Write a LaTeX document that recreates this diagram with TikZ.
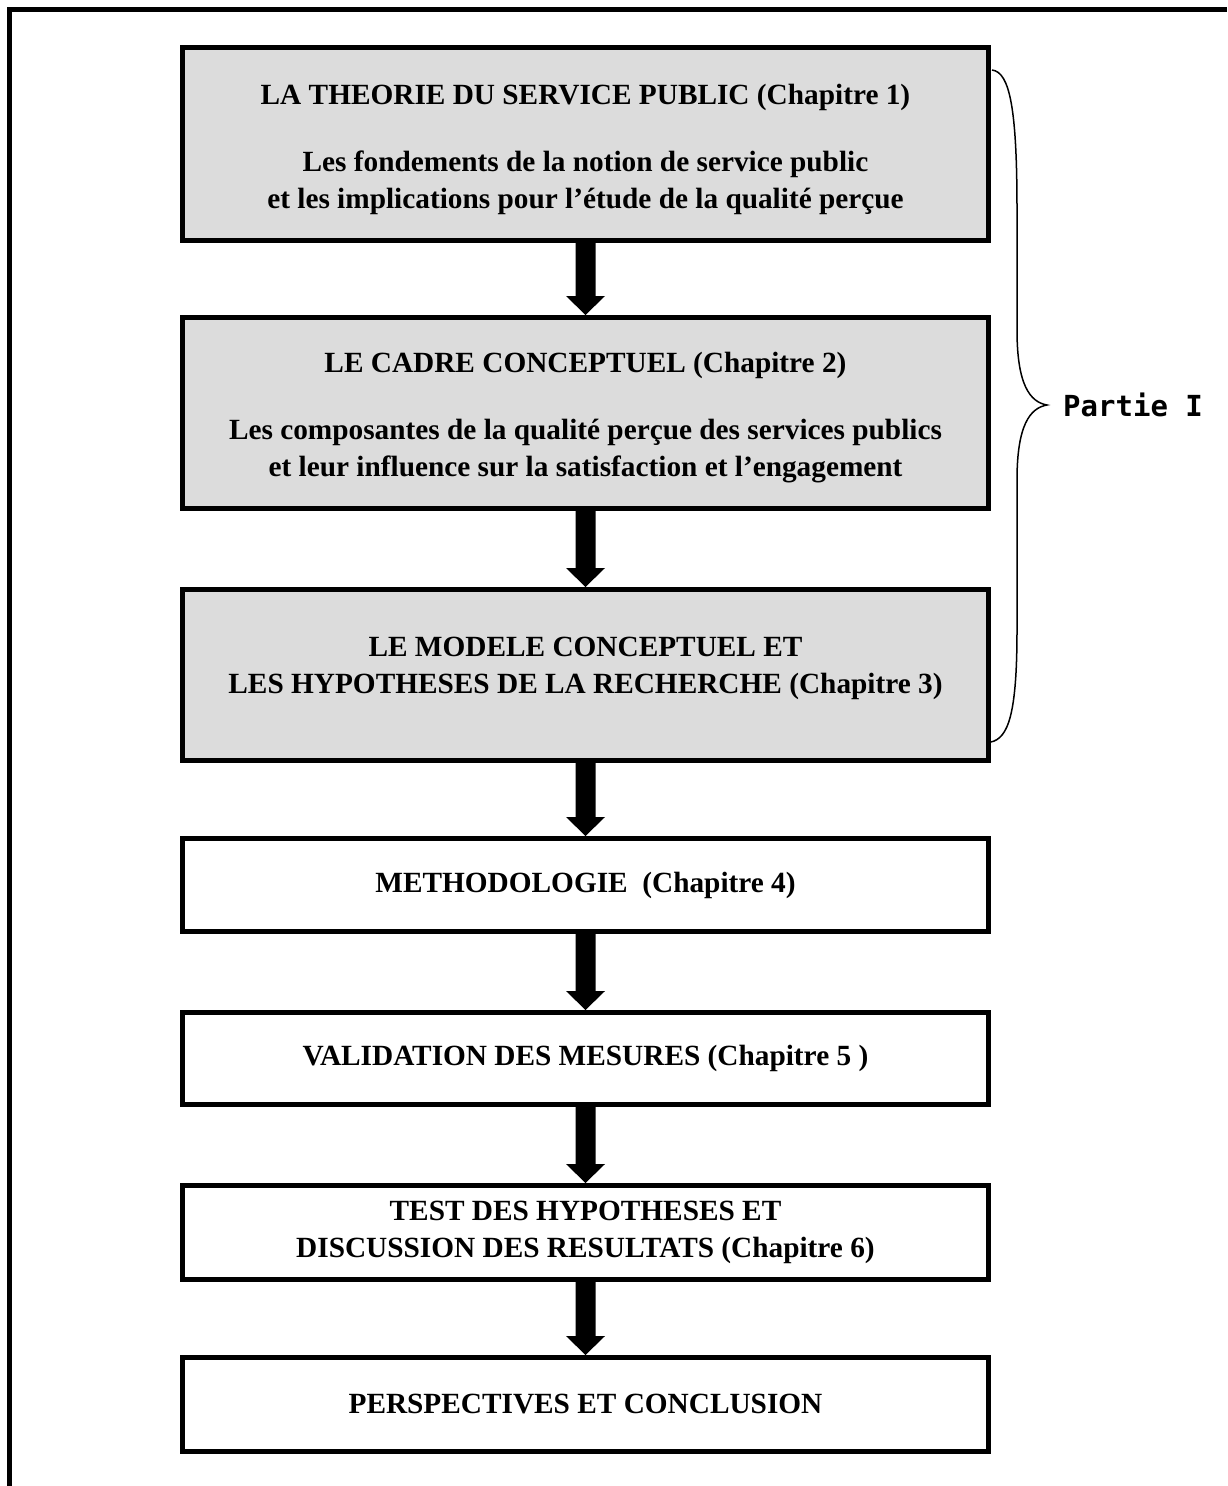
\documentclass[tikz,border=0pt]{standalone}
\usepackage{fontspec}
\setmainfont{Liberation Serif}
\newfontfamily\partiefont{DejaVu Sans Mono}
\usetikzlibrary{calc}
\definecolor{chapgray}{RGB}{220,220,220}
\tikzset{
    chapitre/.style={
        draw, line width=5pt, minimum width=806pt, minimum height=#1,
        align=center, inner sep=0pt,
        font=\fontsize{29.3}{37}\selectfont\bfseries
    },
    chapitre/.default=93pt,
    partie/.style={chapitre=#1, fill=chapgray},
    partie/.default=171pt
}
\newcommand{\fleche}[2] {
	\fill ($(#1.south)+(-10,0)$) -- ($(#2.north)+(-10,-19)$) -- ($(#2.north)+(-19.5,-19)$) -- (#2.north)
		-- ($(#2.north)+(19.5,-19)$) -- ($(#2.north)+(10,-19)$) -- ($(#1.south)+(10,0)$) -- cycle;
}

\begin{document}
\begin{tikzpicture}[x=1pt,y=-1pt]
		\useasboundingbox (0,0) rectangle (1227,1486);
		% Cadre
		\draw[line width=5pt] (9.5,1486) -- (9.5,9.5) -- (1227,9.5);
		
		% Partie I
		\node[partie=193pt] (theorie) at (585.5,144) {\rule{0pt}{32pt}LA THEORIE DU SERVICE PUBLIC (Chapitre 1)\\[30pt]
			Les fondements de la notion de service public\\
			et les implications pour l’étude de la qualité perçue};
		\node[partie=191pt] (cadre) at (585.5,413) {\rule{0pt}{30pt}LE CADRE CONCEPTUEL (Chapitre 2)\\[30pt]
			Les composantes de la qualité perçue des services publics\\
			et leur influence sur la satisfaction et l’engagement};
		\node[partie] (modele) at (585.5,675) {LE MODELE CONCEPTUEL ET\\
			LES HYPOTHESES DE LA RECHERCHE (Chapitre 3)\rule[-19pt]{0pt}{19pt}};
		
		% Suite
		\node[chapitre] (methodo) at (585.5,885) {METHODOLOGIE\ \ (Chapitre 4)};
		\node[chapitre=92pt] (validation) at (585.5,1058.5) {VALIDATION DES MESURES (Chapitre 5 )};
		\node[chapitre=94pt] (test) at (585.5,1232.5) {TEST DES HYPOTHESES ET\\
			DISCUSSION DES RESULTATS (Chapitre 6)};
		\node[chapitre=94pt] (perspectives) at (585.5,1404.5) {PERSPECTIVES ET CONCLUSION};
		
		\fleche{theorie}{cadre}
		\fleche{cadre}{modele}
		\fleche{modele}{methodo}
		\fleche{methodo}{validation}
		\fleche{validation}{test}
		\fleche{test}{perspectives}
		
		% Accolade
		\draw[line width=1.5pt] (992,70) .. controls (1010,72) and (1017,110) .. (1017,210)
			-- (1017,330) .. controls (1017,385) and (1030,402) .. (1047,405)
			coordinate (pointe)
			.. controls (1030,408) and (1017,425) .. (1017,480)
			-- (1017,630) .. controls (1017,715) and (1008,738) .. (991,742);
		\node[anchor=west, inner sep=0pt, font=\partiefont\bfseries\fontsize{29}{29}\selectfont]
			(partieI) at ($(pointe)+(16,0)$) {Partie I};
	\end{tikzpicture}
\end{document}
